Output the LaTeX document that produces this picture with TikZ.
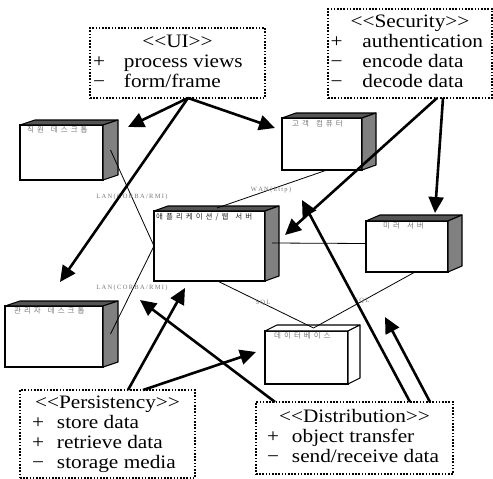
\documentclass[tikz,border=0pt]{standalone}
\usepackage{fontspec}
\setmainfont{Liberation Serif}
\newfontfamily\boxfont[FakeStretch=1.12]{Liberation Serif}
\newfontfamily\krfont{Noto Sans CJK KR}
\newfontfamily\lnfont{Liberation Serif}
\usetikzlibrary{arrows.meta}
\newcommand\kgap{\hspace{3pt}}
\newcommand\kword{\hspace{7pt}}
\newcommand\lk{\kern1.3pt}
\newcommand\cubefaces[5]{%
  \filldraw[fill=#4, line width=1.1pt, line join=round] (#1.north west) -- ++(#2,#3) -- ([shift={(#2,#3)}]#1.north east) -- (#1.north east) -- cycle;
  \filldraw[fill=#5, line width=1.1pt, line join=round] (#1.north east) -- ++(#2,#3) -- ([shift={(#2,#3)}]#1.south east) -- (#1.south east) -- cycle;}
\definecolor{topgray}{RGB}{85,85,85}
\definecolor{sidegray}{RGB}{128,128,128}
\definecolor{lblgray}{RGB}{120,120,120}
\tikzset{
  front/.style={draw=black, fill=white, line width=1.1pt, inner sep=0pt, outer sep=0pt, anchor=north west},
  dotbox/.style={draw=black, line width=1.6pt, dash pattern=on 1.6pt off 1.6pt, inner sep=0pt, outer sep=0pt, anchor=north west, font=\boxfont\fontsize{19}{20}\selectfont},
  thinline/.style={line width=0.8pt},
  bigarrow/.style={line width=2.6pt, -{Triangle[length=16pt,width=15pt]}},
  krlbl/.style={font=\krfont\fontsize{7.5}{8}\selectfont, text=lblgray, inner sep=0pt, anchor=west},
  lnlbl/.style={font=\lnfont\fontsize{6.5}{7}\selectfont, text=lblgray, inner sep=0pt},
}
\begin{document}
\begin{tikzpicture}[x=1pt,y=-1pt]
\useasboundingbox (0,0) rectangle (493,479);

% 3D boxes
\node[front, minimum width=83pt, minimum height=55pt] (emp) at (20,125) {};
\cubefaces{emp}{15}{-5}{topgray}{sidegray}
\node[front, minimum width=80pt, minimum height=52pt] (cust) at (282,118) {};
\cubefaces{cust}{14}{-5}{topgray}{sidegray}
\node[front, minimum width=111pt, minimum height=70pt] (app) at (154,211) {};
\cubefaces{app}{14}{-5}{topgray}{sidegray}
\node[front, minimum width=82pt, minimum height=51pt] (mirror) at (366,221) {};
\cubefaces{mirror}{14}{-6}{topgray}{sidegray}
\node[front, minimum width=83pt, minimum height=53pt] (db) at (265,331) {};
\cubefaces{db}{12}{-6}{white}{white}
\node[front, minimum width=98pt, minimum height=61pt] (adm) at (5,306) {};
\cubefaces{adm}{15}{-5}{topgray}{sidegray}

% Korean labels
\node[krlbl] (empl) at (27,130) {직\kgap 원\kword 데\kgap 스\kgap 크\kgap 톱};
\node[krlbl] (custl) at (292,124) {고\kgap 객\kword 컴\kgap 퓨\kgap 터};
\node[krlbl, text=black!85] (appl) at (156,217) {애\kgap 플\kgap 리\kgap 케\kgap 이\kgap 션\kgap /\kgap 웹\kword 서\kgap 버};
\node[krlbl] (mirrorl) at (383,226) {미\kgap 러\kword 서\kgap 버};
\node[krlbl] (dbl) at (274,336) {데\kgap 이\kgap 터\kgap 베\kgap 이\kgap 스};
\node[krlbl] (adml) at (14,311) {관\kgap 리\kgap 자\kword 데\kgap 스\kgap 크\kgap 톱};

% thin connectors
\draw[thinline] ([shift={(7.5,-2.5)}]emp.east) -- (app.west);
\draw[thinline] ([shift={(7.5,-2.5)}]adm.east) -- (app.west);
\draw[thinline] ([xshift=5pt]cust.south) -- ([shift={(63,-3)}]app.north west);
\draw[thinline] ([shift={(7,-3)}]app.east) -- ([shift={(0,-3)}]mirror.west);
\draw[thinline] ([xshift=8pt]app.south) -- ([shift={(7,-3)}]db.north);
\draw[thinline] ([xshift=8pt]mirror.south) -- ([shift={(7,-3)}]db.north);

% connector labels
\node[lnlbl] (lan1) at (132,197) {L\lk A\lk N\lk (\lk C\lk O\lk R\lk B\lk A\lk /\lk R\lk M\lk I\lk )};
\node[lnlbl] (lan2) at (132,288) {L\lk A\lk N\lk (\lk C\lk O\lk R\lk B\lk A\lk /\lk R\lk M\lk I\lk )};
\node[lnlbl] (wan) at (271,190) {W\lk A\lk N\lk (\lk h\lk t\lk t\lk p\lk )};
\node[lnlbl] (sql1) at (263,303) {S\lk Q\lk L};
\node[lnlbl] (sql2) at (362,301) {S\lk Q\lk L};

% dotted boxes
\node[dotbox, minimum width=175pt, minimum height=70pt] (ui) at (90,28) {%
  \begin{tabular}{@{}l@{}}\multicolumn{1}{@{}c@{}}{\makebox[169pt]{<<UI>>}}\\
  \makebox[31pt][l]{+}process views\\
  \makebox[31pt][l]{−}form/frame\end{tabular}};
\node[dotbox, minimum width=164pt, minimum height=89pt] (sec) at (328,9) {%
  \begin{tabular}{@{}l@{}}\multicolumn{1}{@{}c@{}}{\makebox[159pt]{<<Security>>}}\\
  \makebox[32pt][l]{+}authentication\\
  \makebox[32pt][l]{−}encode data\\
  \makebox[32pt][l]{−}decode data\end{tabular}};
\node[dotbox, minimum width=175pt, minimum height=88pt] (pers) at (20,390) {%
  \begin{tabular}{@{}l@{}}\multicolumn{1}{@{}c@{}}{\makebox[151pt]{<<Persistency>>}}\\
  \makebox[25pt][l]{+}store data\\
  \makebox[25pt][l]{+}retrieve data\\
  \makebox[25pt][l]{−}storage media\end{tabular}};
\node[dotbox, minimum width=197pt, minimum height=72pt] (dist) at (256,402) {%
  \begin{tabular}{@{}l@{}}\multicolumn{1}{@{}c@{}}{\makebox[175pt]{<<Distribution>>}}\\
  \makebox[25pt][l]{+}object transfer\\
  \makebox[25pt][l]{−}send/receive data\end{tabular}};

% tips
\coordinate (tEmp) at (128,127);
\coordinate (tAdm) at (60,282);
\coordinate (tCust) at (275,128);
\coordinate (tAppR) at (285,235);
\coordinate (tMirror) at (435,213);
\coordinate (tAppB) at (185,288);
\coordinate (tDb) at (256,352);
\coordinate (tAppL) at (140,300);
\coordinate (tCustB) at (302,200);
\coordinate (tDbR) at (385,317);

% thick arrows
\draw[bigarrow] ([xshift=10.5pt]ui.south) -- (tEmp);
\draw[bigarrow] ([xshift=10.5pt]ui.south) -- (tAdm);
\draw[bigarrow] ([xshift=10.5pt]ui.south) -- (tCust);
\draw[bigarrow] ([xshift=27pt]sec.south) -- (tAppR);
\draw[bigarrow] ([xshift=33pt]sec.south) -- (tMirror);
\draw[bigarrow] ([xshift=20.5pt]pers.north) -- (tAppB);
\draw[bigarrow] ([xshift=35.5pt]pers.north) -- (tDb);
\draw[bigarrow] ([xshift=-79.5pt]dist.north) -- (tAppL);
\draw[bigarrow] ([xshift=55.5pt]dist.north) -- (tCustB);
\draw[bigarrow] ([xshift=75.5pt]dist.north) -- (tDbR);
\end{tikzpicture}
\end{document}
